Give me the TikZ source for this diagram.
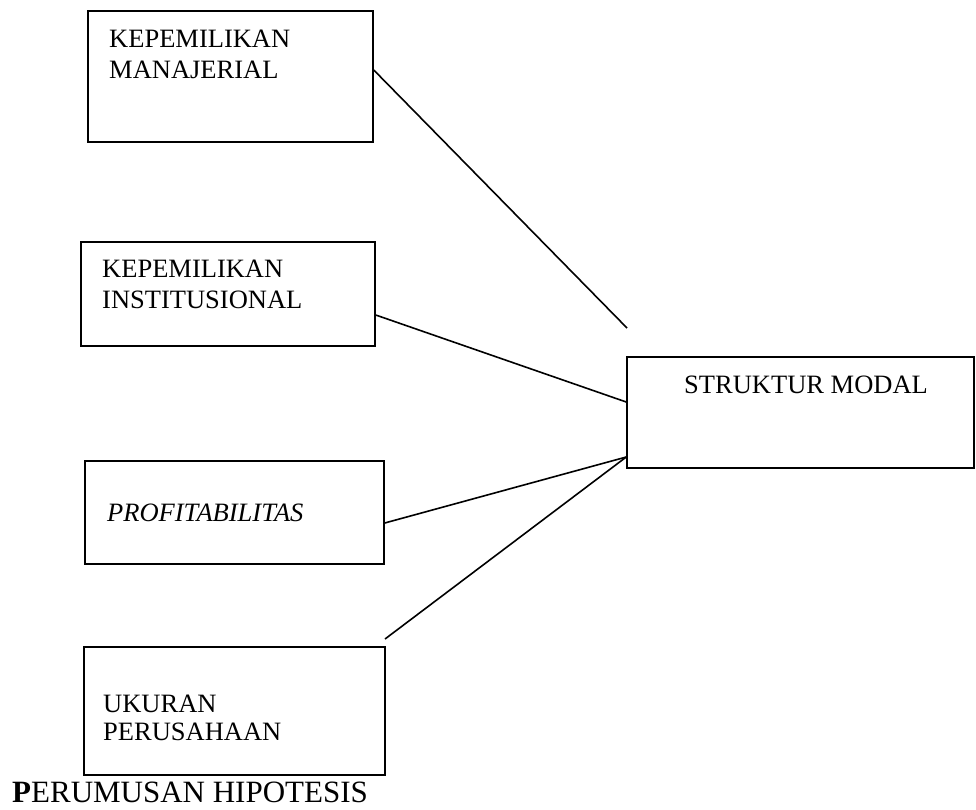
\documentclass[tikz,border=0pt]{standalone}
\usepackage{fontspec}
\setmainfont{Liberation Serif}
\usetikzlibrary{calc}
\tikzset{
  box/.style={draw=black, line width=1.5pt, inner sep=0pt, fill=none},
  lbl/.style={anchor=base west, inner sep=0pt, font=\fontsize{26.5}{30}\selectfont},
  conn/.style={draw=black, line width=1.6pt}
}
\begin{document}
\begin{tikzpicture}[x=1pt,y=-1pt]
\useasboundingbox (0,0) rectangle (976,809);
% boxes
\node[box, minimum width=285pt, minimum height=131pt] (b1) at (230.5,76.5) {};
\node[box, minimum width=294pt, minimum height=104pt] (b2) at (228,294) {};
\node[box, minimum width=299pt, minimum height=103pt] (b3) at (234.5,512.5) {};
\node[box, minimum width=301pt, minimum height=128pt] (b4) at (234.5,711) {};
\node[box, minimum width=347pt, minimum height=111pt] (b5) at (800.5,412.5) {};
% texts
\node[lbl] (t1a) at (109,47) {KEPEMILIKAN};
\node[lbl] (t1b) at (109,78) {MANAJERIAL};
\node[lbl] (t2a) at (102,277) {KEPEMILIKAN};
\node[lbl] (t2b) at (102,308) {INSTITUSIONAL};
\node[lbl] (t3) at (107,521) {\itshape PROFITABILITAS};
\node[lbl] (t4a) at (103,712) {UKURAN};
\node[lbl] (t4b) at (103,740) {PERUSAHAAN};
\node[lbl] (t5) at (684,393) {STRUKTUR MODAL};
\node[anchor=base west, inner sep=0pt, font=\fontsize{31}{34}\selectfont] (title) at (12,802) {\textbf{P}ERUMUSAN HIPOTESIS};
% connector ends
\coordinate (e1) at (627,328);
\coordinate (s4) at (385,639);
% connectors
\draw[conn] ($(b1.east)+(0,-6.5)$) -- (e1);
\draw[conn] ($(b2.east)+(0,21)$) -- ($(b5.west)+(0,-10.5)$);
\draw[conn] ($(b3.east)+(0,10.5)$) -- ($(b5.west)+(0,44.5)$);
\draw[conn] (s4) -- ($(b5.west)+(0,44.5)$);
\end{tikzpicture}
\end{document}
